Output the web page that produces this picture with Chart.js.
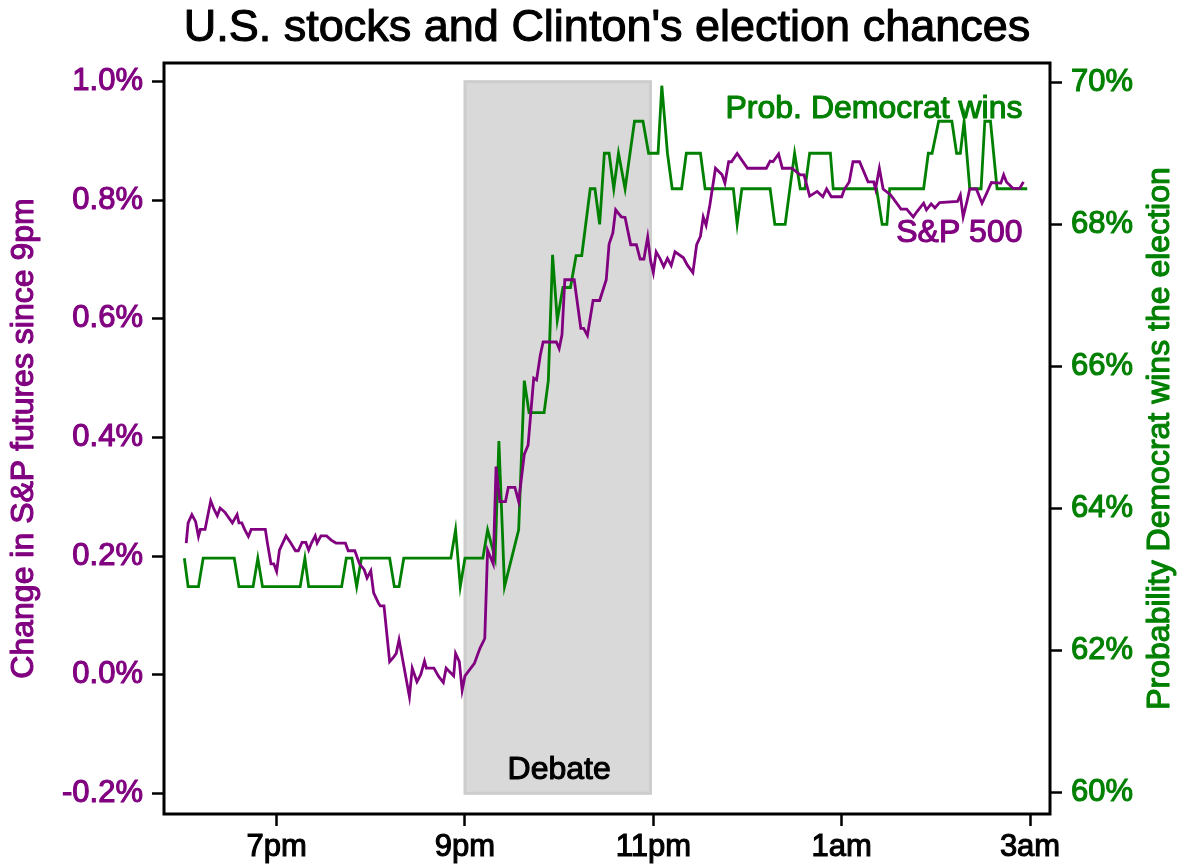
<!DOCTYPE html>
<html>
<head>
<meta charset="utf-8">
<title>U.S. stocks and Clinton's election chances</title>
<script src="https://cdn.jsdelivr.net/npm/chart.js@4.4.1/dist/chart.umd.min.js"></script>
<style>
  html, body { margin: 0; padding: 0; background: #fff; }
</style>
</head>
<body>
<canvas id="electionChart" width="1184" height="864"></canvas>
<script>
// Chart data (times are hours after 9pm)
const chartTitle = "U.S. stocks and Clinton's election chances";
const leftAxisTitle = "Change in S&P futures since 9pm";
const rightAxisTitle = "Probability Democrat wins the election";

const xTickValues = [-2, 0, 2, 4, 6];
const xTickLabels = ["7pm", "9pm", "11pm", "1am", "3am"];
const leftTickValues = [-0.2, 0, 0.2, 0.4, 0.6, 0.8, 1.0];
const rightTickValues = [60, 62, 64, 66, 68, 70];

const debateStart = 0;
const debateEnd = 1.97;

const spTimes = [
  -2.96, -2.94, -2.90, -2.86, -2.83, -2.81, -2.76, -2.70, -2.67, -2.63,
  -2.60, -2.55, -2.47, -2.42, -2.40, -2.37, -2.34, -2.30, -2.27, -2.12,
  -2.10, -2.06, -2.03, -2.00, -1.97, -1.90, -1.85, -1.80, -1.77, -1.73,
  -1.69, -1.66, -1.63, -1.59, -1.57, -1.53, -1.47, -1.42, -1.37, -1.27,
  -1.24, -1.17, -1.12, -1.07, -1.04, -1.00, -0.97, -0.92, -0.90, -0.86,
  -0.80, -0.76, -0.73, -0.70, -0.59, -0.56, -0.51, -0.47, -0.43, -0.41,
  -0.33, -0.28, -0.23, -0.20, -0.12, -0.10, -0.06, -0.03, 0.00, 0.10,
  0.16, 0.21, 0.24, 0.30, 0.33, 0.37, 0.43, 0.46, 0.53, 0.57,
  0.63, 0.67, 0.73, 0.76, 0.80, 0.83, 0.97, 1.00, 1.03, 1.06,
  1.16, 1.23, 1.26, 1.30, 1.36, 1.43, 1.50, 1.53, 1.57, 1.60,
  1.63, 1.66, 1.70, 1.76, 1.82, 1.86, 1.90, 1.94, 1.97, 2.00,
  2.03, 2.07, 2.11, 2.15, 2.19, 2.23, 2.32, 2.36, 2.42, 2.46,
  2.50, 2.53, 2.56, 2.60, 2.66, 2.73, 2.76, 2.80, 2.83, 2.89,
  3.00, 3.20, 3.24, 3.27, 3.33, 3.37, 3.47, 3.56, 3.60, 3.66,
  3.74, 3.80, 3.84, 3.89, 4.00, 4.03, 4.08, 4.12, 4.19, 4.28,
  4.34, 4.36, 4.40, 4.44, 4.52, 4.63, 4.69, 4.76, 4.80, 4.87,
  4.90, 4.95, 4.99, 5.04, 5.23, 5.26, 5.29, 5.33, 5.36, 5.43,
  5.49, 5.54, 5.59, 5.69, 5.72, 5.75, 5.82, 5.89, 5.93
];
const spValues = [
  0.222, 0.256, 0.270, 0.258, 0.233, 0.245, 0.245, 0.293, 0.281, 0.268,
  0.281, 0.274, 0.256, 0.270, 0.256, 0.256, 0.245, 0.233, 0.245, 0.245,
  0.224, 0.187, 0.187, 0.174, 0.210, 0.234, 0.222, 0.209, 0.209, 0.223,
  0.223, 0.210, 0.222, 0.234, 0.222, 0.234, 0.234, 0.227, 0.222, 0.222,
  0.209, 0.209, 0.187, 0.177, 0.163, 0.175, 0.138, 0.121, 0.116, 0.116,
  0.022, 0.029, 0.036, 0.059, -0.037, 0.011, -0.012, 0.000, 0.023, 0.011,
  0.011, -0.003, -0.013, 0.011, -0.002, 0.036, 0.022, -0.026, -0.002, 0.019,
  0.045, 0.061, 0.210, 0.187, 0.351, 0.292, 0.292, 0.316, 0.316, 0.292,
  0.372, 0.387, 0.500, 0.497, 0.539, 0.561, 0.561, 0.550, 0.573, 0.666,
  0.666, 0.584, 0.584, 0.572, 0.631, 0.631, 0.666, 0.726, 0.745, 0.784,
  0.778, 0.772, 0.771, 0.725, 0.725, 0.701, 0.701, 0.738, 0.699, 0.678,
  0.713, 0.702, 0.688, 0.702, 0.690, 0.713, 0.703, 0.691, 0.678, 0.725,
  0.739, 0.772, 0.758, 0.792, 0.854, 0.843, 0.829, 0.865, 0.865, 0.879,
  0.854, 0.854, 0.866, 0.865, 0.878, 0.854, 0.854, 0.843, 0.843, 0.807,
  0.815, 0.806, 0.819, 0.806, 0.806, 0.819, 0.831, 0.865, 0.865, 0.831,
  0.831, 0.819, 0.854, 0.819, 0.809, 0.785, 0.785, 0.772, 0.781, 0.795,
  0.784, 0.794, 0.787, 0.796, 0.798, 0.809, 0.772, 0.798, 0.819, 0.819,
  0.795, 0.812, 0.830, 0.829, 0.843, 0.831, 0.820, 0.820, 0.831
];

const probTimes = [
  -2.98, -2.94, -2.83, -2.78, -2.45, -2.40, -2.25, -2.20, -2.15, -1.75,
  -1.70, -1.66, -1.31, -1.26, -1.20, -1.15, -1.10, -0.80, -0.75, -0.70,
  -0.65, -0.15, -0.10, -0.05, 0.00, 0.19, 0.24, 0.32, 0.36, 0.42,
  0.57, 0.63, 0.68, 0.84, 0.885, 0.93, 0.98, 1.04, 1.12, 1.18,
  1.24, 1.33, 1.38, 1.43, 1.48, 1.53, 1.58, 1.63, 1.70, 1.80,
  1.89, 1.95, 2.05, 2.09, 2.15, 2.20, 2.30, 2.35, 2.50, 2.55,
  2.85, 2.89, 2.94, 3.24, 3.29, 3.40, 3.50, 3.56, 3.61, 3.66,
  3.88, 3.91, 4.37, 4.43, 4.48, 4.51, 4.87, 4.92, 4.96, 5.03,
  5.17, 5.22, 5.26, 5.30, 5.36, 5.48, 5.52, 5.58, 5.65, 5.97
];
const probValues = [
  63.3, 62.9, 62.9, 63.3, 63.3, 62.9, 62.9, 63.3, 62.9, 62.9,
  63.3, 62.9, 62.9, 63.3, 63.3, 62.9, 63.3, 63.3, 62.9, 62.9,
  63.3, 63.3, 63.7, 62.9, 63.3, 63.3, 63.7, 63.3, 64.95, 62.9,
  63.7, 65.8, 65.35, 65.35, 65.8, 67.57, 66.65, 67.11, 67.11, 67.56,
  67.56, 68.5, 68.5, 68.0, 69.0, 69.0, 68.5, 69.0, 68.5, 69.45,
  69.45, 69.0, 69.0, 69.95, 69.0, 68.5, 68.5, 69.0, 69.0, 68.5,
  68.5, 68.0, 68.5, 68.5, 68.0, 68.0, 69.0, 68.5, 68.5, 69.0,
  69.0, 68.5, 68.5, 68.0, 68.0, 68.5, 68.5, 69.0, 69.0, 69.45,
  69.45, 69.0, 69.0, 69.45, 68.5, 68.5, 69.45, 69.45, 68.5, 68.5
];

const PURPLE = "#800080";
const GREEN = "#008000";
const FONT = "'Liberation Sans', Arial, Helvetica, sans-serif";
const TEXT_STROKE = 1.1;

function toPoints(xs, ys) {
  return xs.map((x, i) => ({ x: x, y: ys[i] }));
}

// filled + lightly stroked text, to get the heavy look of the original
function heavyText(ctx, text, x, y, color) {
  ctx.fillStyle = color;
  ctx.strokeStyle = color;
  ctx.lineWidth = TEXT_STROKE;
  ctx.lineJoin = "round";
  ctx.strokeText(text, x, y);
  ctx.fillText(text, x, y);
}

// debate shading, drawn under the lines
const debateBox = {
  id: "debateBox",
  beforeDatasetsDraw(chart) {
    const { ctx, scales } = chart;
    const x0 = scales.x.getPixelForValue(debateStart);
    const x1 = scales.x.getPixelForValue(debateEnd);
    const y0 = scales.y.getPixelForValue(1.0);
    const y1 = scales.y.getPixelForValue(-0.2);
    ctx.save();
    ctx.fillStyle = "#d9d9d9";
    ctx.fillRect(x0, y0, x1 - x0, y1 - y0);
    ctx.strokeStyle = "#cdcdcd";
    ctx.lineWidth = 3;
    ctx.strokeRect(x0, y0, x1 - x0, y1 - y0);
    ctx.restore();
  }
};

// frame, titles and the text notes
const notes = [
  { text: "Prob. Democrat wins", axis: "y2", x: 5.92, y: 69.5, color: GREEN, align: "right" },
  { text: "S&P 500", axis: "y", x: 5.92, y: 0.73, color: PURPLE, align: "right" },
  { text: "Debate", axis: "y", x: 1.0, y: -0.176, color: "#000", align: "center" }
];

const overlay = {
  id: "overlay",
  afterDatasetsDraw(chart) {
    const { ctx, chartArea, scales } = chart;
    const midY = (chartArea.top + chartArea.bottom) / 2;
    ctx.save();
    ctx.strokeStyle = "#000";
    ctx.lineWidth = 3;
    ctx.strokeRect(chartArea.left, chartArea.top,
      chartArea.right - chartArea.left, chartArea.bottom - chartArea.top);

    ctx.font = "32px " + FONT;
    ctx.textBaseline = "alphabetic";
    notes.forEach(n => {
      ctx.textAlign = n.align;
      heavyText(ctx, n.text, scales.x.getPixelForValue(n.x), scales[n.axis].getPixelForValue(n.y), n.color);
    });

    // chart title, centred over the plot
    ctx.font = "45px " + FONT;
    ctx.textAlign = "center";
    ctx.textBaseline = "middle";
    heavyText(ctx, chartTitle, (chartArea.left + chartArea.right) / 2, 29, "#000");

    // both axis titles read bottom to top
    ctx.font = "32px " + FONT;
    ctx.save();
    ctx.translate(24, midY);
    ctx.rotate(-Math.PI / 2);
    heavyText(ctx, leftAxisTitle, 0, 0, PURPLE);
    ctx.restore();

    ctx.save();
    ctx.translate(chart.width - 24, midY);
    ctx.rotate(-Math.PI / 2);
    heavyText(ctx, rightAxisTitle, 0, 0, GREEN);
    ctx.restore();

    ctx.restore();
  }
};

const tickGrid = {
  drawOnChartArea: false,
  drawTicks: true,
  tickLength: 12,
  tickColor: "#000",
  tickWidth: 2.5
};

function tickStyle(color) {
  return {
    color: color,
    font: { family: FONT, size: 31 },
    textStrokeColor: color,
    textStrokeWidth: TEXT_STROKE
  };
}

new Chart(document.getElementById("electionChart"), {
  type: "line",
  data: {
    datasets: [
      {
        label: "Prob. Democrat wins",
        data: toPoints(probTimes, probValues),
        yAxisID: "y2",
        borderColor: GREEN,
        borderWidth: 2.8,
        pointRadius: 0,
        tension: 0,
        order: 2
      },
      {
        label: "S&P 500",
        data: toPoints(spTimes, spValues),
        yAxisID: "y",
        borderColor: PURPLE,
        borderWidth: 2.8,
        pointRadius: 0,
        tension: 0,
        order: 1
      }
    ]
  },
  options: {
    responsive: false,
    animation: false,
    layout: { padding: { top: 63 } },
    plugins: {
      legend: { display: false },
      tooltip: { enabled: false },
      title: { display: false }
    },
    scales: {
      x: {
        type: "linear",
        min: -3.196,
        max: 6.212,
        afterBuildTicks: s => { s.ticks = xTickValues.map(v => ({ value: v })); },
        afterFit: s => { s.height = 50; },
        ticks: Object.assign(tickStyle("#000"), {
          callback: (v, i) => xTickLabels[i],
          padding: 3,
          maxRotation: 0,
          autoSkip: false
        }),
        grid: tickGrid,
        border: { display: false }
      },
      y: {
        position: "left",
        min: -0.2349,
        max: 1.0315,
        afterBuildTicks: s => { s.ticks = leftTickValues.map(v => ({ value: v })); },
        afterFit: s => { s.width = 164; },
        ticks: Object.assign(tickStyle(PURPLE), {
          callback: v => v.toFixed(1) + "%",
          padding: 9
        }),
        grid: tickGrid,
        border: { display: false }
      },
      y2: {
        position: "right",
        min: 59.70,
        max: 70.27,
        afterBuildTicks: s => { s.ticks = rightTickValues.map(v => ({ value: v })); },
        afterFit: s => { s.width = 134; },
        ticks: Object.assign(tickStyle(GREEN), {
          callback: v => v + "%",
          padding: 9
        }),
        grid: tickGrid,
        border: { display: false }
      }
    }
  },
  plugins: [debateBox, overlay]
});
</script>
</body>
</html>
